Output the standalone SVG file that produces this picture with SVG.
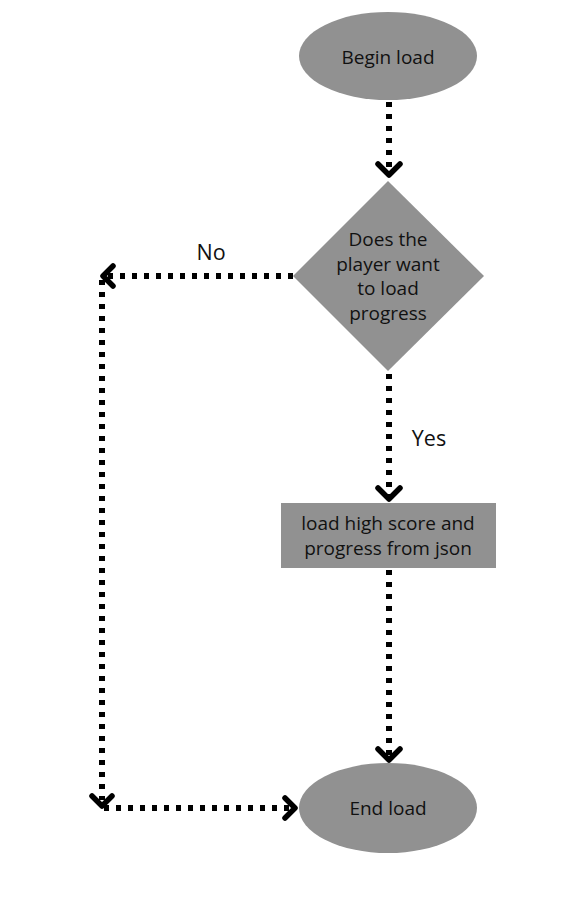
<svg xmlns="http://www.w3.org/2000/svg" width="574" height="918" viewBox="0 0 574 918">
<style>
.shape{fill:#919191;}
.lbl{font-family:"Open Sans","Noto Sans",sans-serif;font-size:19px;fill:#111;text-anchor:middle;}
.edge{fill:none;stroke:#000;stroke-width:6;stroke-dasharray:5 7;}
.head{fill:none;stroke:#000;stroke-width:5.5;stroke-linecap:round;stroke-linejoin:round;}
</style>
<rect width="574" height="918" fill="#fff"/>
<g id="begin">
<ellipse class="shape" cx="388" cy="56" rx="89" ry="44"/>
<text class="lbl" x="388" y="64">Begin load</text>
</g>
<g id="decision">
<polygon class="shape" points="388,181 484,276 388,371 293,276"/>
<text class="lbl" x="388" y="246">Does the</text>
<text class="lbl" x="388" y="271">player want</text>
<text class="lbl" x="388" y="295">to load</text>
<text class="lbl" x="388" y="320">progress</text>
</g>
<g id="loadjson">
<rect class="shape" x="281" y="503" width="215" height="65"/>
<text class="lbl" x="388" y="530">load high score and</text>
<text class="lbl" x="388" y="555">progress from json</text>
</g>
<g id="end">
<ellipse class="shape" cx="388" cy="808" rx="89" ry="45"/>
<text class="lbl" x="388" y="815">End load</text>
</g>
<g id="connectors">
<line class="edge" x1="389" y1="102" x2="389" y2="172"/>
<polyline class="head" points="378,164 389,175 400,164"/>
<line class="edge" x1="293" y1="276" x2="108" y2="276"/>
<polyline class="head" points="113,266 103,276 113,286"/>
<line class="edge" x1="102" y1="280" x2="102" y2="800"/>
<polyline class="head" points="92,796 102,806 112,796"/>
<line class="edge" x1="104" y1="808" x2="290" y2="808"/>
<polyline class="head" points="285,798 295,808 285,818"/>
<line class="edge" x1="389" y1="374" x2="389" y2="496"/>
<polyline class="head" points="378,488 389,499 400,488"/>
<line class="edge" x1="389" y1="570" x2="389" y2="756"/>
<polyline class="head" points="378,749 389,760 400,749"/>
<text class="lbl" x="211" y="260" style="font-size:21.5px">No</text>
<text class="lbl" x="429" y="446" style="font-size:21.5px">Yes</text>
</g>
</svg>
